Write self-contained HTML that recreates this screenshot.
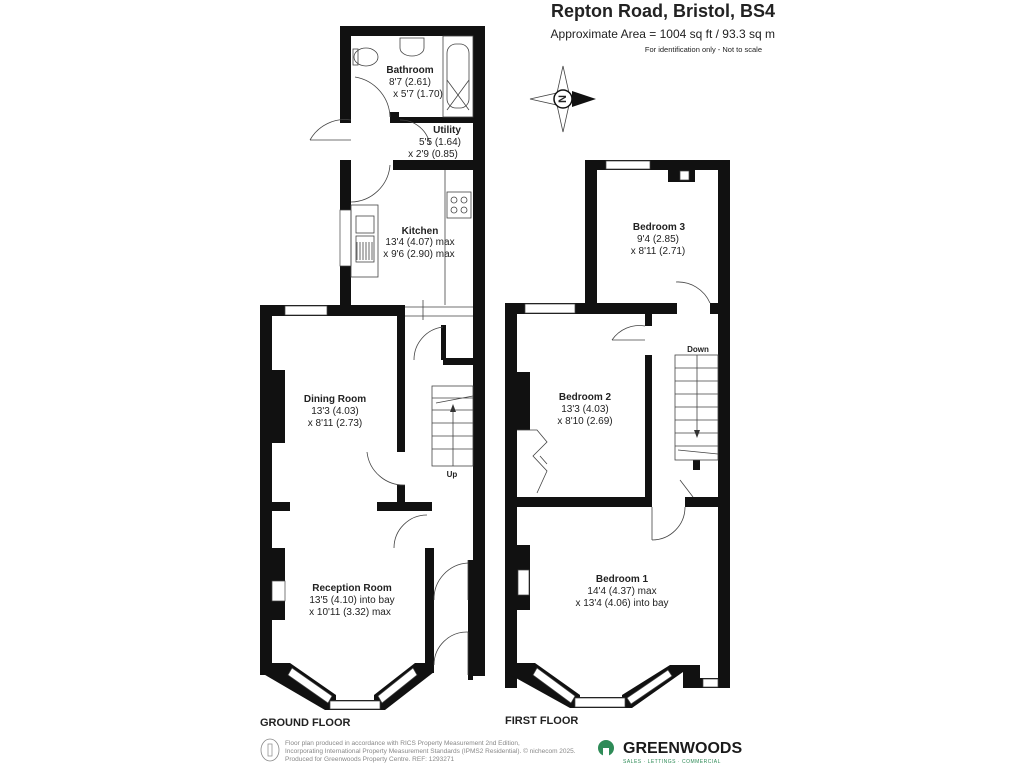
<!DOCTYPE html>
<html><head><meta charset="utf-8"><style>
html,body{margin:0;padding:0;background:#fff;width:1024px;height:768px;overflow:hidden}
svg{display:block}
text{font-family:"Liberation Sans",Arial,sans-serif;fill:#222}
.b{font-weight:bold}
</style></head><body>
<svg width="1024" height="768" viewBox="0 0 1024 768" xmlns="http://www.w3.org/2000/svg">
<!-- header -->
<text x="775" y="17" font-size="18" class="b" text-anchor="end" fill="#111">Repton Road, Bristol, BS4</text>
<text x="775" y="38" font-size="12" text-anchor="end">Approximate Area = 1004 sq ft / 93.3 sq m</text>
<text x="762" y="52" font-size="7.5" text-anchor="end">For identification only - Not to scale</text>
<!-- compass -->
<g stroke="#444" stroke-width="0.8" fill="#fff">
<polygon points="563,66 569,93 563,99 557,93"/>
<polygon points="563,132 569,105 563,99 557,105"/>
<polygon points="530,99 557,93 563,99 557,105"/>
<circle cx="563" cy="99" r="9" stroke="#111" stroke-width="1.5"/>
</g>
<polygon points="572,91 596,99 572,107" fill="#111"/>
<text x="563" y="103.5" font-size="11" class="b" text-anchor="middle" transform="rotate(90 563 99)">N</text>

<g fill="#111">
<!-- GROUND FLOOR -->
<!-- bathroom/utility/kitchen block -->
<rect x="340" y="26" width="145" height="10"/>
<rect x="340" y="26" width="11" height="97"/>
<rect x="473" y="26" width="12" height="650"/>
<rect x="390" y="117" width="83" height="6"/>
<rect x="390" y="112" width="9" height="11"/>
<rect x="393" y="160" width="80" height="10"/>
<rect x="405" y="160" width="68" height="6"/>
<rect x="340" y="160" width="11" height="147"/>
<!-- dining/reception -->
<rect x="260" y="305" width="145" height="11"/>
<rect x="260" y="305" width="12" height="370"/>
<rect x="272" y="370" width="13" height="73"/>
<rect x="397" y="316" width="8" height="136"/>
<rect x="272" y="502" width="18" height="9"/>
<rect x="377" y="502" width="55" height="9"/>
<rect x="397" y="485" width="8" height="20"/>
<rect x="272" y="548" width="13" height="72"/>
<rect x="425" y="548" width="9" height="125"/>
<rect x="443" y="358" width="30" height="7"/>
<rect x="441" y="325" width="5" height="35"/>
<rect x="468" y="560" width="5" height="120"/>
<!-- bay ground -->
<polygon points="260,663 290,663 336,695 336,710 325,710 260,672"/>
<polygon points="425,663 434,663 434,672 385,710 374,710 374,695 415,663"/>
<rect x="325" y="700" width="60" height="10"/>

<!-- FIRST FLOOR -->
<rect x="585" y="160" width="145" height="10"/>
<rect x="585" y="160" width="12" height="150"/>
<rect x="718" y="160" width="12" height="528"/>
<rect x="668" y="170" width="27" height="12"/>
<rect x="505" y="303" width="172" height="11"/>
<rect x="710" y="303" width="8" height="11"/>
<rect x="505" y="303" width="12" height="385"/>
<rect x="645" y="314" width="7" height="12"/>
<rect x="645" y="355" width="7" height="152"/>
<rect x="517" y="372" width="13" height="58"/>
<rect x="505" y="497" width="147" height="10"/>
<rect x="685" y="497" width="33" height="10"/>
<rect x="693" y="460" width="7" height="10"/>
<rect x="517" y="545" width="13" height="65"/>
<!-- bay first -->
<polygon points="505,663 535,663 580,695 580,708 570,708 505,672"/>
<polygon points="683,665 700,665 700,688 683,688 683,672 632,708 622,708 622,695 670,665"/>
<rect x="570" y="697" width="60" height="11"/>
<rect x="700" y="678" width="30" height="10"/>
</g>

<!-- whites (windows/openings) -->
<g fill="#fff" stroke="#444" stroke-width="0.7">
<rect x="340" y="210" width="11" height="56"/>
<rect x="285" y="306" width="42" height="9"/>
<rect x="606" y="161" width="44" height="8"/>
<rect x="525" y="304" width="50" height="9"/>
<rect x="680" y="171" width="9" height="9"/>
<rect x="518" y="570" width="11" height="25"/>
<rect x="272" y="581" width="13" height="20"/>
<rect x="330" y="701" width="50" height="8"/>
<rect x="575" y="698" width="50" height="9"/>
<rect x="703" y="679" width="15" height="8"/>
<polygon points="292,668 332,696 328,703 288,675"/>
<polygon points="413,668 378,696 382,703 417,675"/>
<polygon points="537,668 575,696 571,703 533,675"/>
<polygon points="668,670 627,698 631,704 672,676"/>
</g>

<!-- fixtures & doors -->
<g fill="none" stroke="#444" stroke-width="0.8">
<!-- bath -->
<rect x="443" y="36" width="30" height="81"/>
<rect x="447" y="44" width="22" height="64" rx="9"/>
<path d="M447,80 L469,110 M469,80 L447,110"/>
<!-- sink & toilet -->
<path d="M400,38 h24 v10 a12,8 0 0 1 -24,0 z"/>
<ellipse cx="366" cy="57" rx="12" ry="9"/>
<rect x="353" y="49" width="5" height="16"/>
<!-- bath door / utility door -->
<path d="M355,77 A42,42 0 0 1 390,117"/>
<path d="M310,140 A40,40 0 0 1 351,120"/>
<path d="M310,140 h41"/>
<path d="M430,145 A30,30 0 0 0 400,120"/>
<path d="M351,202 A40,40 0 0 0 390,165"/>
<!-- kitchen worktops -->
<rect x="351" y="205" width="27" height="72"/>
<rect x="356" y="216" width="18" height="17"/>
<rect x="356" y="236" width="18" height="26"/>
<path d="M357,242 v18 M360,242 v18 M363,242 v18 M366,242 v18 M369,242 v18 M372,242 v18"/>
<rect x="447" y="192" width="24" height="26"/>
<circle cx="454" cy="200" r="3"/><circle cx="464" cy="200" r="3"/><circle cx="454" cy="210" r="3"/><circle cx="464" cy="210" r="3"/>
<path d="M445,170 v135 M405,307 h68 M405,316 h68 M423,300 v20"/>
<!-- hall doors ground -->
<path d="M414,360 A33,33 0 0 1 443,327"/>
<path d="M405,485 A37,37 0 0 1 367,452"/>
<path d="M394,548 A33,33 0 0 1 427,515"/>
<path d="M434,600 A36,36 0 0 1 468,563"/>
<path d="M434,665 A33,33 0 0 1 468,632"/>
<path d="M468,560 v40 M468,632 v43"/>
<!-- stairs ground -->
<rect x="432" y="386" width="41" height="80"/>
<path d="M432,398 h41 M432,410 h41 M432,423 h41 M432,436 h41 M432,449 h41 M453,466 v-58 M436,403 l37,-7"/>
<!-- first floor doors -->
<path d="M676,282 A35,35 0 0 1 710,303"/>
<path d="M612,340 A33,33 0 0 1 645,326"/>
<path d="M612,340 h33"/>
<path d="M652,540 A33,33 0 0 0 685,507"/>
<path d="M652,507 v33"/>
<!-- wardrobe -->
<path d="M517,430 h20 l10,12 l-14,14 l14,15 l-10,22 M540,456 l7,8"/>
<!-- stairs first -->
<rect x="675" y="355" width="43" height="105"/>
<path d="M675,368 h43 M675,381 h43 M675,394 h43 M675,407 h43 M675,420 h43 M675,433 h43 M675,446 h43 M697,355 v80 M678,450 l40,4"/>
<path d="M680,480 l13,17"/>
</g>
<polygon points="450,412 453,404 456,412" fill="#333"/>
<polygon points="694,430 697,438 700,430" fill="#333"/>

<!-- labels -->
<g font-size="10" text-anchor="middle">
<text x="410" y="73" class="b">Bathroom</text>
<text x="410" y="85">8'7 (2.61)</text>
<text x="418" y="97">x 5'7 (1.70)</text>
<text x="447" y="133" class="b">Utility</text>
<text x="440" y="145">5'5 (1.64)</text>
<text x="433" y="157">x 2'9 (0.85)</text>
<text x="420" y="234" class="b">Kitchen</text>
<text x="420" y="245">13'4 (4.07) max</text>
<text x="419" y="257">x 9'6 (2.90) max</text>
<text x="335" y="402" class="b">Dining Room</text>
<text x="335" y="414">13'3 (4.03)</text>
<text x="335" y="426">x 8'11 (2.73)</text>
<text x="452" y="477" class="b" font-size="8">Up</text>
<text x="352" y="591" class="b">Reception Room</text>
<text x="352" y="603">13'5 (4.10) into bay</text>
<text x="350" y="615">x 10'11 (3.32) max</text>
<text x="659" y="230" class="b">Bedroom 3</text>
<text x="658" y="242">9'4 (2.85)</text>
<text x="658" y="254">x 8'11 (2.71)</text>
<text x="585" y="400" class="b">Bedroom 2</text>
<text x="585" y="412">13'3 (4.03)</text>
<text x="585" y="424">x 8'10 (2.69)</text>
<text x="698" y="352" class="b" font-size="8">Down</text>
<text x="622" y="582" class="b">Bedroom 1</text>
<text x="622" y="594">14'4 (4.37) max</text>
<text x="622" y="606">x 13'4 (4.06) into bay</text>
</g>
<text x="260" y="726" font-size="11" class="b">GROUND FLOOR</text>
<text x="505" y="724" font-size="11" class="b">FIRST FLOOR</text>

<!-- footer -->
<ellipse cx="270" cy="750" rx="9" ry="11" fill="none" stroke="#888" stroke-width="0.8"/>
<rect x="268" y="744" width="4" height="12" fill="none" stroke="#888" stroke-width="0.7"/>
<g font-size="6.5" fill="#888" style="fill:#888">
<text x="285" y="745" style="fill:#888">Floor plan produced in accordance with RICS Property Measurement 2nd Edition,</text>
<text x="285" y="753" style="fill:#888">Incorporating International Property Measurement Standards (IPMS2 Residential).  © nichecom 2025.</text>
<text x="285" y="761" style="fill:#888">Produced for Greenwoods Property Centre.   REF: 1293271</text>
</g>
<circle cx="606" cy="748" r="8" fill="#2e8b57"/>
<rect x="603" y="748" width="6" height="10" fill="#fff"/>
<text x="623" y="753" font-size="16" class="b" style="fill:#1a1a1a">GREENWOODS</text>
<text x="623" y="763" font-size="5" style="fill:#2e8b57" letter-spacing="0.5">SALES · LETTINGS · COMMERCIAL</text>
</svg>
</body></html>
